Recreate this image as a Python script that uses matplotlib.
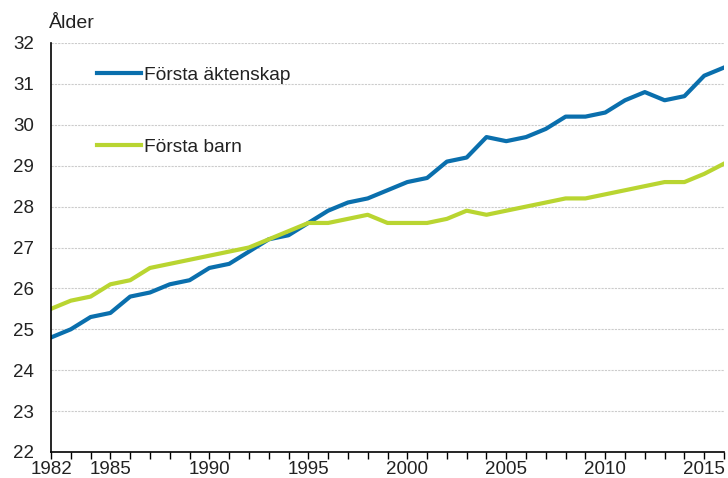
import matplotlib
matplotlib.use("Agg")
import matplotlib.pyplot as plt
from matplotlib.ticker import MultipleLocator

years = list(range(1982, 2017))
forsta_aktenskap = [24.8, 25.0, 25.3, 25.4, 25.8, 25.9, 26.1, 26.2, 26.5, 26.6,
                    26.9, 27.2, 27.3, 27.6, 27.9, 28.1, 28.2, 28.4, 28.6, 28.7,
                    29.1, 29.2, 29.7, 29.6, 29.7, 29.9, 30.2, 30.2, 30.3, 30.6,
                    30.8, 30.6, 30.7, 31.2, 31.4]
forsta_barn = [25.5, 25.7, 25.8, 26.1, 26.2, 26.5, 26.6, 26.7, 26.8, 26.9,
               27.0, 27.2, 27.4, 27.6, 27.6, 27.7, 27.8, 27.6, 27.6, 27.6,
               27.7, 27.9, 27.8, 27.9, 28.0, 28.1, 28.2, 28.2, 28.3, 28.4,
               28.5, 28.6, 28.6, 28.8, 29.05]
series_labels = ["Första äktenskap", "Första barn"]
xtick_labels = [1982, 1985, 1990, 1995, 2000, 2005, 2010, 2015]
yticks = list(range(22, 33))

plt.rcParams['font.family'] = ['Liberation Sans', 'DejaVu Sans']

fig = plt.figure(figsize=(7.28, 4.78), dpi=100)
ax = fig.add_axes([51/728, 1-452/478, (724-51)/728, (452-43)/478])

blue = '#0a6fad'
green = '#b9d531'
ax.plot(years, forsta_aktenskap, color=blue, lw=3.0, label=series_labels[0], solid_joinstyle='round')
ax.plot(years, forsta_barn, color=green, lw=3.0, label=series_labels[1], solid_joinstyle='round')

ax.set_xlim(1982, 2016)
ax.set_ylim(22, 32)
ax.set_yticks(yticks)
ax.set_xticks(xtick_labels)
ax.set_xticklabels([str(v) for v in xtick_labels])
ax.xaxis.set_minor_locator(MultipleLocator(1))
ax.tick_params(axis='x', which='both', direction='out', length=5, width=1, color='black',
               labelsize=13.5, pad=1.5)
ax.tick_params(axis='y', which='both', length=0, labelsize=13.5, pad=12)
for lbl in ax.get_xticklabels() + ax.get_yticklabels():
    lbl.set_color('#222222')

ax.grid(axis='y', color='#cccccc', lw=0.8, linestyle=(0, (2, 1)))
ax.set_axisbelow(True)
for s in ['top', 'right']:
    ax.spines[s].set_visible(False)
ax.spines['left'].set_color('black')
ax.spines['bottom'].set_color('black')
ax.spines['left'].set_linewidth(1.2)
ax.spines['bottom'].set_linewidth(1.2)

leg = ax.legend(loc='upper left', bbox_to_anchor=(0.0566, 0.962), frameon=False,
                fontsize=13.8, handlelength=2.3, handletextpad=0.15, labelspacing=2.85,
                borderaxespad=0)
for t in leg.get_texts():
    t.set_color('#222222')

fig.text(49/728, 1-24/478, "Ålder", fontsize=14, color='#222222', va='center', ha='left')

fig.savefig("out.png", dpi=100)
